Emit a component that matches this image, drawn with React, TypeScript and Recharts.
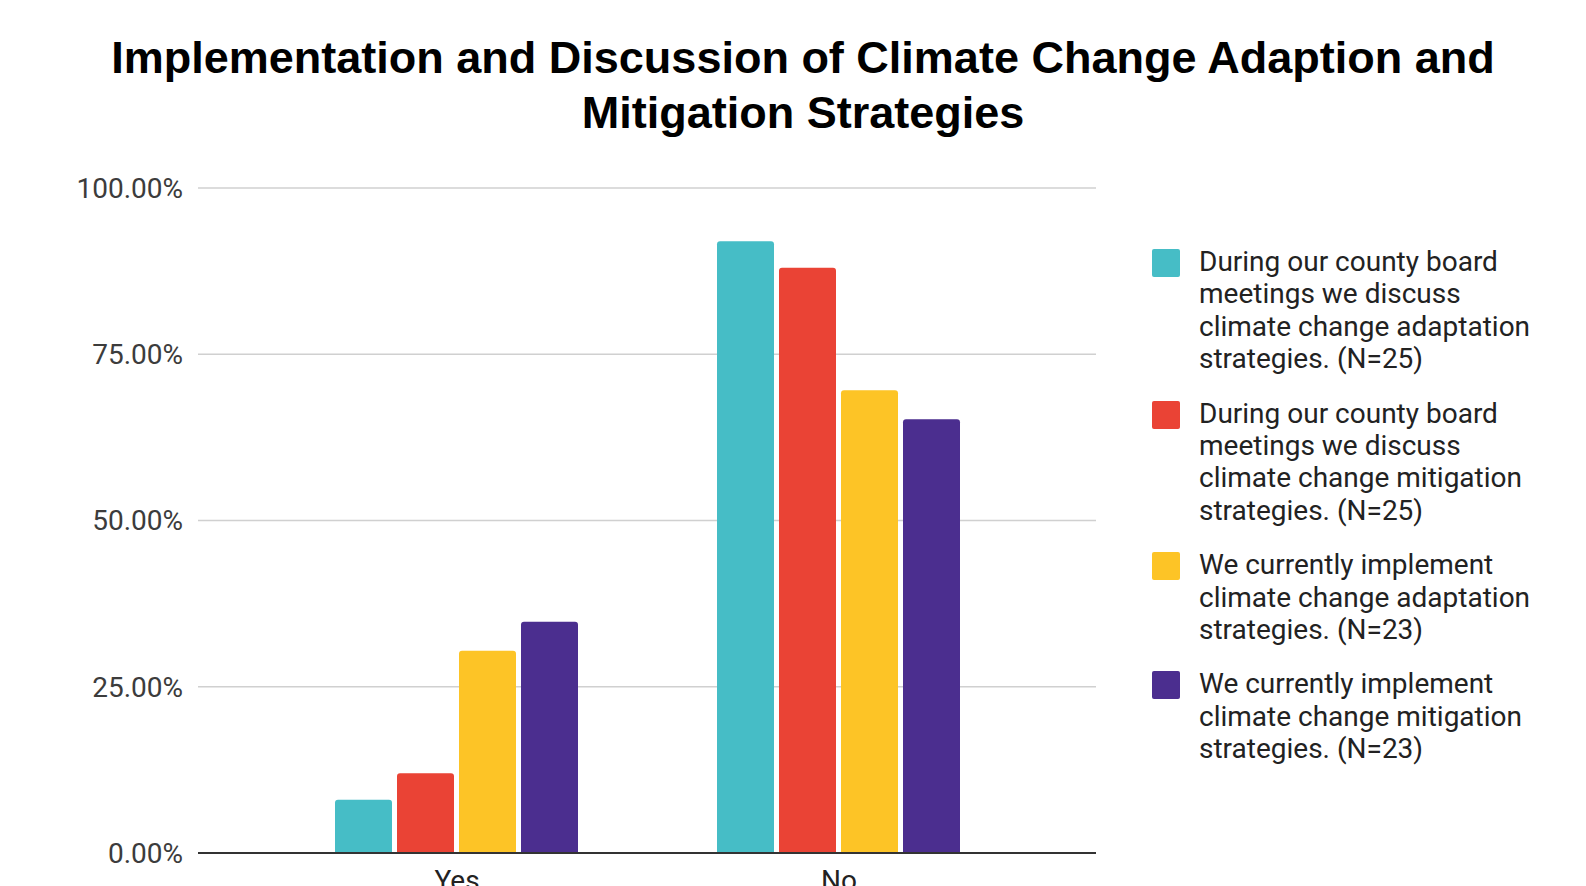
import React from 'react';
import { BarChart, Bar, XAxis, YAxis, CartesianGrid } from 'recharts';

const categories = ['Yes', 'No'];

const adaptationDiscussed = [0.08, 0.92];
const mitigationDiscussed = [0.12, 0.88];
const adaptationImplemented = [0.3043, 0.6957];
const mitigationImplemented = [0.3478, 0.6522];

const seriesLabels = [
  'During our county board meetings we discuss climate change adaptation strategies. (N=25)',
  'During our county board meetings we discuss climate change mitigation strategies. (N=25)',
  'We currently implement climate change adaptation strategies. (N=23)',
  'We currently implement climate change mitigation strategies. (N=23)',
];

const yTicks = [0, 0.25, 0.5, 0.75, 1];

const COLORS = ['#46BDC6', '#EA4335', '#FDC426', '#4B2E8F'];
const KEYS = ['adaptDiscuss', 'mitigDiscuss', 'adaptImpl', 'mitigImpl'];

const data = categories.map((name, i) => ({
  name,
  adaptDiscuss: adaptationDiscussed[i],
  mitigDiscuss: mitigationDiscussed[i],
  adaptImpl: adaptationImplemented[i],
  mitigImpl: mitigationImplemented[i],
}));

const FONT = 'Roboto, "Liberation Sans", Arial, sans-serif';

function CategoryTick(props: any) {
  const { x, y, payload } = props;
  return (
    <text x={x} y={y + 29} textAnchor="middle" fill="#222" fontSize={28} fontFamily={FONT}>
      {payload.value}
    </text>
  );
}

export default function App() {
  return (
    <div style={{ position: 'absolute', left: 0, top: 0, width: 1586, height: 886, background: '#fff', overflow: 'hidden' }}>
      <div
        style={{
          position: 'absolute',
          left: 0,
          top: 30,
          width: 1606,
          textAlign: 'center',
          fontFamily: '"Liberation Sans", Arial, sans-serif',
          fontWeight: 'bold',
          fontSize: 45,
          lineHeight: '55px',
          color: '#000',
        }}
      >
        Implementation and Discussion of Climate Change Adaption and
        <br />
        Mitigation Strategies
      </div>

      <BarChart
        width={1586}
        height={886}
        data={data}
        margin={{ top: 188, right: 490, bottom: 0, left: 0 }}
        barCategoryGap={69}
        barGap={5}
      >
        <CartesianGrid vertical={false} stroke="#d0d0d0" strokeWidth={1.5} />
        <XAxis
          dataKey="name"
          height={33}
          padding={{ left: 68, right: 66 }}
          axisLine={{ stroke: '#333', strokeWidth: 2 }}
          tickLine={false}
          tick={<CategoryTick />}
          interval={0}
        />
        <YAxis
          width={198}
          domain={[0, 1]}
          ticks={yTicks}
          axisLine={false}
          tickLine={false}
          tickMargin={9}
          tickFormatter={(v: number) => `${(v * 100).toFixed(2)}%`}
          tick={{ fill: '#3c3c3c', fontSize: 28, fontFamily: FONT }}
        />
        {KEYS.map((key, i) => (
          <Bar key={key} dataKey={key} fill={COLORS[i]} radius={[3, 3, 0, 0]} isAnimationActive={false} />
        ))}
      </BarChart>

      <div style={{ position: 'absolute', left: 1152, top: 246, width: 420, fontFamily: FONT, fontSize: 28, lineHeight: '32.4px', color: '#222' }}>
        {seriesLabels.map((label, i) => (
          <div key={label} style={{ display: 'flex', marginBottom: 22 }}>
            <div
              style={{
                width: 28,
                height: 28,
                marginTop: 3,
                marginRight: 19,
                borderRadius: 2,
                background: COLORS[i],
                flex: 'none',
              }}
            />
            <div style={{ width: 350 }}>{label}</div>
          </div>
        ))}
      </div>
    </div>
  );
}
